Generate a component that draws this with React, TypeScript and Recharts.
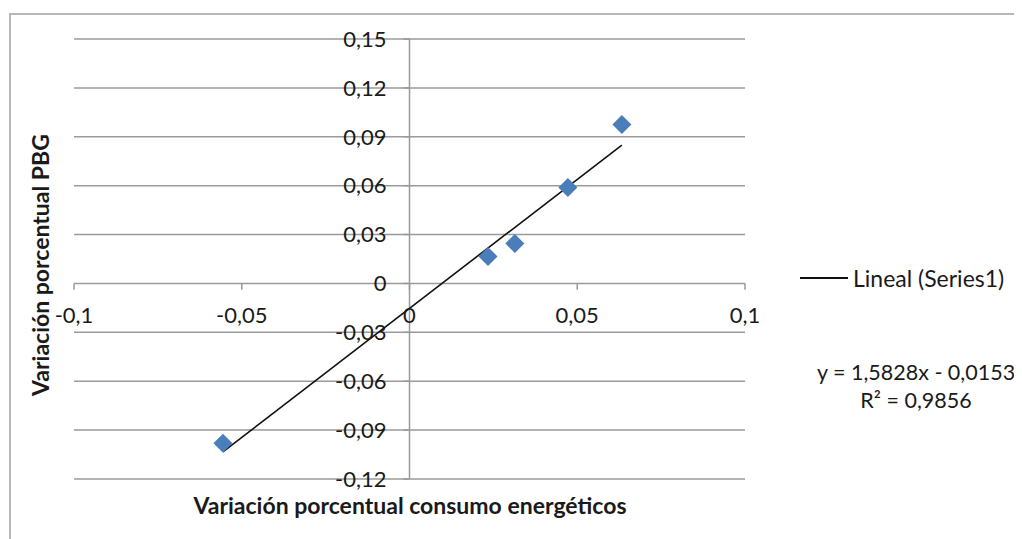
import React from 'react';
import { ComposedChart, XAxis, YAxis, Scatter, ReferenceLine, ReferenceDot } from 'recharts';

// ---- data ----
const xTicks = [-0.1, -0.05, 0, 0.05, 0.1];
const xTickLabels = ['-0,1', '-0,05', '0', '0,05', '0,1'];
const yTicks = [-0.12, -0.09, -0.06, -0.03, 0, 0.03, 0.06, 0.09, 0.12, 0.15];
const yTickLabels = ['-0,12', '-0,09', '-0,06', '-0,03', '0', '0,03', '0,06', '0,09', '0,12', '0,15'];
const xValues = [-0.0556, 0.0234, 0.0314, 0.0472, 0.0633];
const yValues = [-0.098, 0.0166, 0.0245, 0.0589, 0.0976];
const trendSlope = 1.5828;
const trendIntercept = -0.0153;
const legendLabel = 'Lineal (Series1)';
const equationLabel = 'y = 1,5828x - 0,0153';
const r2Label = 'R² = 0,9856';
const xTitle = 'Variación porcentual consumo energéticos';
const yTitle = 'Variación porcentual PBG';

const points = xValues.map((x, i) => ({ x, y: yValues[i] }));
const xMin = Math.min(...xValues);
const xMax = Math.max(...xValues);

const FONT = 'Lato, "Open Sans", sans-serif';
const GRID = '#9a9a9a';
const TXT = '#1a1a1a';
const TICK_FS = 22;
const FS = 23;

const Diamond = (props: any) => {
  const { cx, cy } = props;
  if (cx == null || cy == null) return null;
  const h = 9.5;
  return (
    <polygon
      points={`${cx},${cy - h} ${cx + h},${cy} ${cx},${cy + h} ${cx - h},${cy}`}
      fill="#4a7ebb"
    />
  );
};

export default function App() {
  return (
    <div style={{ position: 'relative', width: 1014, height: 531, fontFamily: FONT, color: TXT }}>
      <div
        style={{
          position: 'absolute',
          left: 1,
          top: 5,
          width: 1013,
          height: 526,
          borderTop: '2px solid #b8b8b8',
          borderLeft: '2px solid #b8b8b8',
          boxSizing: 'border-box',
        }}
      />
      <div style={{ position: 'absolute', left: 0, top: 0 }}>
        <ComposedChart width={1014} height={531} margin={{ top: 31, right: 277, bottom: 60, left: 66 }}>
          <XAxis type="number" dataKey="x" domain={[-0.1, 0.1]} ticks={xTicks} hide allowDataOverflow />
          <YAxis type="number" dataKey="y" domain={[-0.12, 0.15]} ticks={yTicks} hide allowDataOverflow />
          {yTicks.map((v) => (
            <ReferenceLine key={'g' + v} y={v} stroke={GRID} strokeWidth={1.5} />
          ))}
          <ReferenceLine x={0} stroke={GRID} strokeWidth={1.5} />
          {yTicks.map((v) => (
            <ReferenceLine
              key={'yt' + v}
              segment={[{ x: -0.0018, y: v }, { x: 0, y: v }]}
              stroke={GRID}
              strokeWidth={1.5}
            />
          ))}
          {xTicks.map((v) => (
            <ReferenceLine
              key={'xt' + v}
              segment={[{ x: v, y: 0 }, { x: v, y: -0.0038 }]}
              stroke={GRID}
              strokeWidth={1.5}
            />
          ))}
          {yTicks.map((v, i) => (
            <ReferenceDot
              key={'yl' + v}
              x={0}
              y={v}
              r={0}
              fill="none"
              stroke="none"
              label={{ value: yTickLabels[i], position: 'left', offset: 23, fill: TXT, fontSize: TICK_FS, fontFamily: FONT }}
            />
          ))}
          {xTicks.map((v, i) => (
            <ReferenceDot
              key={'xl' + v}
              x={v}
              y={0}
              r={0}
              fill="none"
              stroke="none"
              label={{ value: xTickLabels[i], position: 'bottom', offset: 24, fill: TXT, fontSize: TICK_FS, fontFamily: FONT }}
            />
          ))}
          <Scatter data={points} shape={Diamond} isAnimationActive={false} />
          <ReferenceLine
            segment={[
              { x: xMin, y: trendSlope * xMin + trendIntercept },
              { x: xMax, y: trendSlope * xMax + trendIntercept },
            ]}
            stroke="#111"
            strokeWidth={1.6}
          />
        </ComposedChart>
      </div>
      {/* axis titles */}
      <div
        style={{
          position: 'absolute',
          left: 32,
          top: 257,
          transform: 'translate(-50%, -50%) rotate(-90deg)',
          whiteSpace: 'nowrap',
          fontWeight: 700,
          fontSize: FS,
          lineHeight: 1,
        }}
      >
        {yTitle}
      </div>
      <div
        style={{
          position: 'absolute',
          left: 402,
          top: 497,
          transform: 'translate(-50%, -50%)',
          whiteSpace: 'nowrap',
          fontWeight: 700,
          fontSize: FS,
          lineHeight: 1,
        }}
      >
        {xTitle}
      </div>
      {/* legend */}
      <div style={{ position: 'absolute', left: 792, top: 269, width: 48, height: 0, borderTop: '2px solid #111' }} />
      <div
        style={{
          position: 'absolute',
          left: 845,
          top: 270,
          transform: 'translateY(-50%)',
          whiteSpace: 'nowrap',
          fontSize: FS,
        }}
      >
        {legendLabel}
      </div>
      {/* equation */}
      <div
        style={{
          position: 'absolute',
          left: 908,
          top: 378,
          transform: 'translate(-50%, -50%)',
          whiteSpace: 'nowrap',
          fontSize: 21.5,
          textAlign: 'center',
          lineHeight: '28px',
        }}
      >
        <div>{equationLabel}</div>
        <div>{r2Label}</div>
      </div>
    </div>
  );
}
